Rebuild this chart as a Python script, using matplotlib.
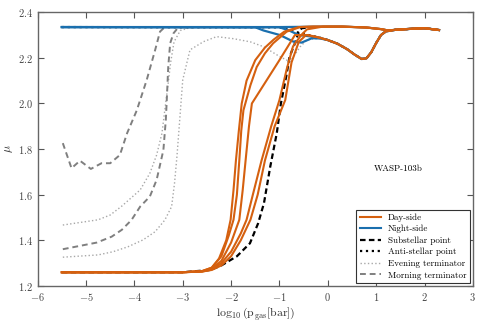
import matplotlib
matplotlib.use('Agg')
import matplotlib.pyplot as plt

plt.rcParams['font.family'] = 'serif'
plt.rcParams['font.serif'] = ['cmr10', 'DejaVu Serif']
plt.rcParams['mathtext.fontset'] = 'cm'
plt.rcParams['axes.formatter.use_mathtext'] = True

ORANGE = '#d5600f'
BLUE = '#1a6fae'

# shared deep-atmosphere tails
tail_dip_x = [0.0, 0.2, 0.4, 0.55, 0.7, 0.8, 0.9, 1.0, 1.1, 1.2, 1.4, 1.7, 2.0, 2.3]
tail_dip_y = [2.278, 2.262, 2.238, 2.215, 2.195, 2.198, 2.225, 2.265, 2.30, 2.316, 2.323, 2.327, 2.33, 2.322]
tail_up_x = [0.3, 0.8, 1.1, 1.25, 1.4, 1.7, 2.0, 2.3]
tail_up_y = [2.337, 2.333, 2.326, 2.32, 2.323, 2.327, 2.33, 2.322]

# day-side profiles
day1_x = [-5.5, -3.0, -2.6, -2.4, -2.25, -2.1, -2.01, -1.95, -1.90, -1.84, -1.78, -1.68, -1.5, -1.3, -1.12, -0.9, -0.6, -0.3]
day1_y = [1.26, 1.26, 1.265, 1.28, 1.32, 1.40, 1.49, 1.62, 1.75, 1.88, 2.0, 2.10, 2.19, 2.245, 2.28, 2.315, 2.335, 2.337]
day2_x = [-5.5, -3.0, -2.6, -2.4, -2.2, -2.05, -1.95, -1.88, -1.83, -1.79, -1.745, -1.6, -1.47, -1.3, -1.13, -0.85, -0.57, -0.3]
day2_y = [1.26, 1.26, 1.265, 1.28, 1.33, 1.42, 1.49, 1.60, 1.75, 1.88, 1.97, 2.08, 2.16, 2.22, 2.264, 2.315, 2.335, 2.337]
day3_x = [-5.5, -3.0, -2.6, -2.4, -2.2, -2.0, -1.83, -1.76, -1.70, -1.63, -1.57, -1.3, -1.0, -0.68, -0.41, -0.2]
day3_y = [1.26, 1.26, 1.264, 1.275, 1.31, 1.39, 1.49, 1.62, 1.75, 1.90, 2.0, 2.09, 2.19, 2.30, 2.30, 2.29]
day4_x = [-5.5, -3.0, -2.6, -2.4, -2.2, -2.0, -1.8, -1.68, -1.55, -1.37, -1.17, -1.0, -0.85, -0.72, -0.55, -0.43, -0.1]
day4_y = [1.26, 1.26, 1.263, 1.272, 1.30, 1.35, 1.43, 1.49, 1.60, 1.75, 1.90, 2.015, 2.15, 2.25, 2.30, 2.325, 2.337]
day5_x = [-5.5, -3.0, -2.6, -2.4, -2.2, -2.0, -1.8, -1.6, -1.45, -1.30, -1.1, -0.88, -0.75, -0.6, -0.45, -0.2]
day5_y = [1.26, 1.26, 1.263, 1.27, 1.29, 1.33, 1.40, 1.49, 1.60, 1.75, 1.90, 2.015, 2.18, 2.27, 2.30, 2.29]

# night-side profiles
night1_x = [-5.5, -1.5, -1.33, -0.99, -0.71, -0.54, -0.33, -0.16]
night1_y = [2.335, 2.334, 2.32, 2.30, 2.271, 2.267, 2.286, 2.285]
night2_x = [-5.5, -1.0, -0.5, 0.0]
night2_y = [2.335, 2.335, 2.336, 2.337]
night3_x = [-5.5, -1.0, -0.8, -0.6, -0.4, -0.2]
night3_y = [2.335, 2.334, 2.32, 2.30, 2.295, 2.29]

# substellar / anti-stellar points
sub_x = [-5.5, -3.0, -2.43, -2.2, -1.88, -1.61, -1.44, -1.32, -1.19, -1.055, -0.97, -0.86, -0.79, -0.68, -0.61, -0.54, -0.3]
sub_y = [1.26, 1.26, 1.27, 1.29, 1.33, 1.387, 1.475, 1.563, 1.723, 1.87, 2.0, 2.118, 2.205, 2.264, 2.308, 2.33, 2.335]
anti_x = [-5.5, -1.0, -0.6, -0.3, -0.1]
anti_y = [2.335, 2.334, 2.31, 2.295, 2.285]

# evening terminator
eve1_x = [-5.48, -4.75, -4.5, -4.26, -3.88, -3.68, -3.54, -3.43, -3.37, -3.3, -3.25, -3.18, -3.05, -2.8]
eve1_y = [1.467, 1.49, 1.511, 1.55, 1.621, 1.694, 1.774, 1.869, 1.972, 2.09, 2.18, 2.27, 2.32, 2.335]
eve2_x = [-5.48, -4.75, -4.44, -4.13, -3.82, -3.57, -3.37, -3.23, -3.17, -3.12, -3.0, -2.85, -2.57, -2.3, -1.95, -1.6, -1.33, -0.99, -0.78, -0.57, -0.43, -0.2]
eve2_y = [1.326, 1.336, 1.35, 1.372, 1.402, 1.438, 1.489, 1.548, 1.65, 1.767, 2.103, 2.235, 2.271, 2.293, 2.284, 2.27, 2.249, 2.205, 2.183, 2.249, 2.279, 2.285]

# morning terminator
morn1_x = [-5.48, -5.30, -5.125, -4.9, -4.68, -4.5, -4.3, -4.15, -3.95, -3.745, -3.57, -3.47, -3.37, -2.5]
morn1_y = [1.826, 1.716, 1.749, 1.713, 1.738, 1.738, 1.774, 1.87, 1.97, 2.103, 2.235, 2.315, 2.335, 2.335]
morn2_x = [-5.48, -4.78, -4.47, -4.26, -4.06, -3.88, -3.68, -3.54, -3.40, -3.35, -3.33, -3.30, -3.26, -3.19, -3.09, -2.5]
morn2_y = [1.361, 1.39, 1.416, 1.446, 1.489, 1.548, 1.592, 1.665, 1.796, 1.928, 2.015, 2.16, 2.264, 2.308, 2.334, 2.335]

fig, ax = plt.subplots(figsize=(4.83, 3.22), dpi=100)
fig.subplots_adjust(left=0.078, right=0.979, top=0.962, bottom=0.112)

ev_style = dict(color='#a8a8a8', ls=':', lw=1.0, zorder=1)
mo_style = dict(color='#7f7f7f', ls=(0, (3, 2)), lw=1.4, zorder=1)
ax.plot(eve1_x, eve1_y, **ev_style)
ax.plot(eve2_x + tail_dip_x, eve2_y + tail_dip_y, **ev_style)
ax.plot(morn1_x, morn1_y, **mo_style)
ax.plot(morn2_x, morn2_y, **mo_style)

ax.plot(sub_x, sub_y, color='black', ls=(0, (2.5, 1.5)), lw=1.6, zorder=2)
ax.plot(anti_x + tail_dip_x, anti_y + tail_dip_y, color='black', ls=':', lw=1.6, zorder=2)

ax.plot(night1_x + tail_dip_x, night1_y + tail_dip_y, color=BLUE, lw=1.6, zorder=3)
ax.plot(night2_x + tail_up_x, night2_y + tail_up_y, color=BLUE, lw=1.6, zorder=3)
ax.plot(night3_x + tail_dip_x, night3_y + tail_dip_y, color=BLUE, lw=1.6, zorder=3)

ax.plot(day1_x + tail_up_x, day1_y + tail_up_y, color=ORANGE, lw=1.5, zorder=4)
ax.plot(day2_x + tail_up_x, day2_y + tail_up_y, color=ORANGE, lw=1.5, zorder=4)
ax.plot(day3_x + tail_dip_x, day3_y + tail_dip_y, color=ORANGE, lw=1.5, zorder=4)
ax.plot(day4_x + tail_up_x, day4_y + tail_up_y, color=ORANGE, lw=1.5, zorder=4)
ax.plot(day5_x + tail_dip_x, day5_y + tail_dip_y, color=ORANGE, lw=1.5, zorder=4)

# legend proxies
ax.plot([], [], color=ORANGE, lw=1.5, label='Day-side')
ax.plot([], [], color=BLUE, lw=1.5, label='Night-side')
ax.plot([], [], color='black', ls=(0, (2.5, 1.5)), lw=1.6, label='Substellar point')
ax.plot([], [], color='black', ls=':', lw=1.6, label='Anti-stellar point')
ax.plot([], [], color='#a8a8a8', ls=':', lw=1.0, label='Evening terminator')
ax.plot([], [], color='#7f7f7f', ls=(0, (3, 2)), lw=1.4, label='Morning terminator')

ax.set_xlim(-6, 3)
ax.set_ylim(1.2, 2.4)
ax.set_xticks(range(-6, 4))
ax.set_yticks([1.2, 1.4, 1.6, 1.8, 2.0, 2.2, 2.4])
ax.tick_params(direction='in', top=True, right=True, length=4, width=0.8,
               colors='#555555', labelsize=7.5, labelcolor='#444444')
for sp in ax.spines.values():
    sp.set_color('#666666')
    sp.set_linewidth(1.0)

ax.set_xlabel(r'$\log_{10}(\mathrm{p_{gas}[bar]})$', fontsize=8.5, color='#333333', labelpad=2)
ax.set_ylabel(r'$\mu$', fontsize=8.5, color='#333333', labelpad=2)

ax.text(1.45, 1.712, 'WASP-103b', fontsize=6.5, ha='center', va='center')

leg = ax.legend(loc='lower right', fontsize=6.5, frameon=True, fancybox=False,
                edgecolor='#333333', framealpha=1, borderaxespad=0.3,
                handlelength=2.3, labelspacing=0.35, borderpad=0.4)
leg.get_frame().set_linewidth(0.8)

fig.savefig('out.png', dpi=100)
